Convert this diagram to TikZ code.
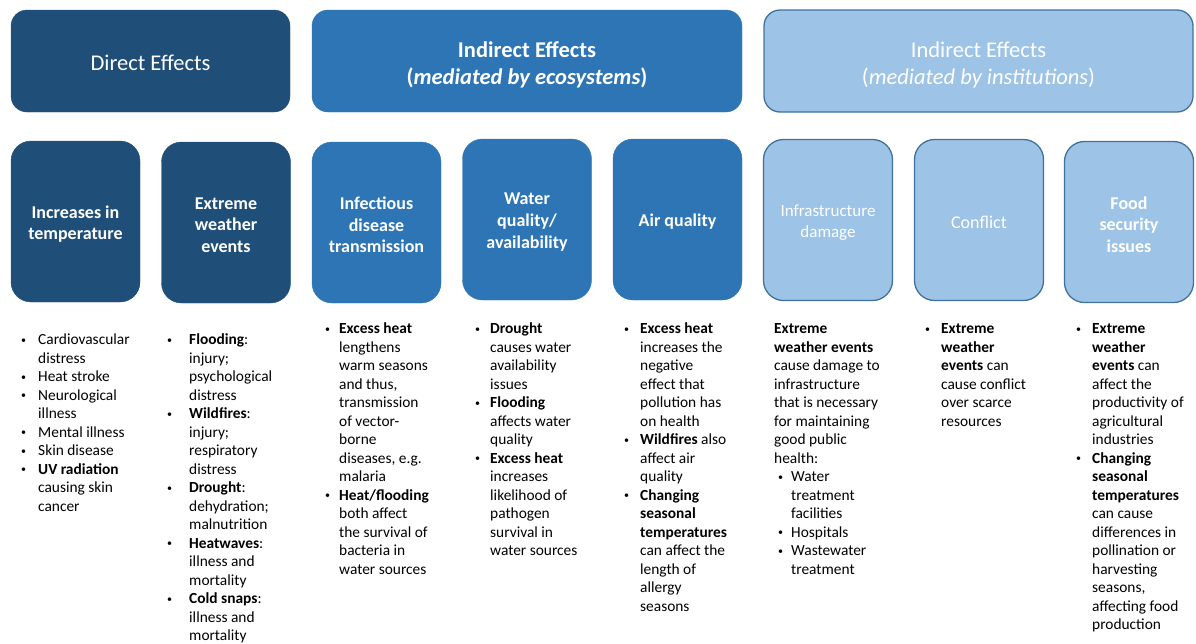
\documentclass[tikz,border=0pt]{standalone}
\usepackage{fontspec}
\setmainfont{Carlito}
\definecolor{dk}{HTML}{1F4E79}
\definecolor{md}{HTML}{2E75B6}
\definecolor{lt}{HTML}{9DC3E6}
\definecolor{ltb}{HTML}{41719C}
\newcommand{\bu}[1]{\llap{\raisebox{1.3pt}{\fontsize{10}{10}\selectfont •}\hspace{#1pt}}}
\tikzset{
  hdr/.style={rounded corners=16pt, minimum height=102pt, inner sep=0pt},
  hdrtext/.style={text=white, align=center, font=\fontsize{22.5}{27}\selectfont, inner sep=0pt},
  cat/.style={rounded corners=20pt, minimum width=129pt, minimum height=161pt, inner sep=0pt},
  cattext/.style={text=white, align=center, font=\fontsize{18}{21.6}\selectfont\bfseries, inner sep=0pt},
  dkbox/.style={fill=dk, draw=dk},
  mdbox/.style={fill=md, draw=md},
  ltbox/.style={fill=lt, draw=ltb, line width=1.3pt},
  body/.style={anchor=base west, inner sep=0pt, text=black,
    font=\fontsize{15.4}{18.5}\selectfont}
}
\begin{document}
\begin{tikzpicture}[x=1pt,y=-1pt]
\useasboundingbox (0,0) rectangle (1196,643);
% headers
\node[hdr, dkbox, minimum width=279pt] (h1) at (150.5,61) {};
\node[hdr, mdbox, minimum width=430pt] (h2) at (527,61) {};
\node[hdr, ltbox, minimum width=429pt] (h3) at (978.5,61) {};
\node[hdrtext] (h1t) at ([yshift=-2pt]h1.center) {Direct Effects};
\node[hdrtext, font=\fontsize{22.5}{27}\selectfont\bfseries] (h2t) at ([yshift=-3.5pt]h2.center)
  {Indirect Effects\\(\textit{mediated by ecosystems})};
\node[hdrtext] (h3t) at ([yshift=-3.5pt]h3.center)
  {Indirect Effects\\(\textit{mediated by institutions})};
% category boxes
\node[cat, dkbox] (b1) at (75.5,221.5) {};
\node[cat, dkbox] (b2) at (226,222.5) {};
\node[cat, mdbox] (b3) at (376.5,222.5) {};
\node[cat, mdbox] (b4) at (527,219.5) {};
\node[cat, mdbox] (b5) at (677.5,219.5) {};
\node[cat, ltbox] (b6) at (828,220) {};
\node[cat, ltbox] (b7) at (979,220) {};
\node[cat, ltbox] (b8) at (1129,222) {};
\node[cattext] (b1t) at ([yshift=-2.5pt]b1.center) {Increases in\\temperature};
\node[cattext] (b2t) at ([yshift=-2.5pt]b2.center) {Extreme\\weather\\events};
\node[cattext] (b3t) at ([yshift=-2.5pt]b3.center) {Infectious\\disease\\transmission};
\node[cattext] (b4t) at ([yshift=-2.5pt]b4.center) {Water\\quality/\\availability};
\node[cattext] (b5t) at ([yshift=-2.5pt]b5.center) {Air quality};
\node[cattext, font=\fontsize{17}{21}\selectfont] (b6t) at ([yshift=-2.5pt]b6.center) {Infrastructure\\damage};
\node[cattext, font=\fontsize{18}{21.6}\selectfont] (b7t) at ([yshift=-2.5pt]b7.center) {Conflict};
\node[cattext] (b8t) at ([yshift=-2.5pt]b8.center) {Food\\security\\issues};
% body texts
\node[body] (t1) at (38,344.5) {\begin{tabular}[t]{@{}l@{}}
\bu{12}Cardiovascular\\
distress\\
\bu{12}Heat stroke\\
\bu{12}Neurological\\
illness\\
\bu{12}Mental illness\\
\bu{12}Skin disease\\
\bu{12}\textbf{UV radiation}\\
causing skin\\
cancer
\end{tabular}};
\node[body] (t2) at (189,344.5) {\begin{tabular}[t]{@{}l@{}}
\bu{17}\textbf{Flooding}:\\
injury;\\
psychological\\
distress\\
\bu{17}\textbf{Wildfires}:\\
injury;\\
respiratory\\
distress\\
\bu{17}\textbf{Drought}:\\
dehydration;\\
malnutrition\\
\bu{17}\textbf{Heatwaves}:\\
illness and\\
mortality\\
\bu{17}\textbf{Cold snaps}:\\
illness and\\
mortality
\end{tabular}};
\node[body] (t3) at (339,333.5) {\begin{tabular}[t]{@{}l@{}}
\bu{9}\textbf{Excess heat}\\
lengthens\\
warm seasons\\
and thus,\\
transmission\\
of vector-\\
borne\\
diseases, e.g.\\
malaria\\
\bu{9}\textbf{Heat/flooding}\\
both affect\\
the survival of\\
bacteria in\\
water sources
\end{tabular}};
\node[body] (t4) at (490,333.5) {\begin{tabular}[t]{@{}l@{}}
\bu{10}\textbf{Drought}\\
causes water\\
availability\\
issues\\
\bu{10}\textbf{Flooding}\\
affects water\\
quality\\
\bu{10}\textbf{Excess heat}\\
increases\\
likelihood of\\
pathogen\\
survival in\\
water sources
\end{tabular}};
\node[body] (t5) at (640,333.5) {\begin{tabular}[t]{@{}l@{}}
\bu{11}\textbf{Excess heat}\\
increases the\\
negative\\
effect that\\
pollution has\\
on health\\
\bu{11}\textbf{Wildfires} also\\
affect air\\
quality\\
\bu{11}\textbf{Changing}\\
\textbf{seasonal}\\
\textbf{temperatures}\\
can affect the\\
length of\\
allergy\\
seasons
\end{tabular}};
\node[body] (t6) at (774,333.5) {\begin{tabular}[t]{@{}l@{}}
\textbf{Extreme}\\
\textbf{weather events}\\
cause damage to\\
infrastructure\\
that is necessary\\
for maintaining\\
good public\\
health:\\
\hspace{17pt}\bu{8}Water\\
\hspace{17pt}treatment\\
\hspace{17pt}facilities\\
\hspace{17pt}\bu{8}Hospitals\\
\hspace{17pt}\bu{8}Wastewater\\
\hspace{17pt}treatment
\end{tabular}};
\node[body] (t7) at (941,333.5) {\begin{tabular}[t]{@{}l@{}}
\bu{11}\textbf{Extreme}\\
\textbf{weather}\\
\textbf{events} can\\
cause conflict\\
over scarce\\
resources
\end{tabular}};
\node[body] (t8) at (1092,333.5) {\begin{tabular}[t]{@{}l@{}}
\bu{11}\textbf{Extreme}\\
\textbf{weather}\\
\textbf{events} can\\
affect the\\
productivity of\\
agricultural\\
industries\\
\bu{11}\textbf{Changing}\\
\textbf{seasonal}\\
\textbf{temperatures}\\
can cause\\
differences in\\
pollination or\\
harvesting\\
seasons,\\
affecting food\\
production
\end{tabular}};
\end{tikzpicture}
\end{document}
